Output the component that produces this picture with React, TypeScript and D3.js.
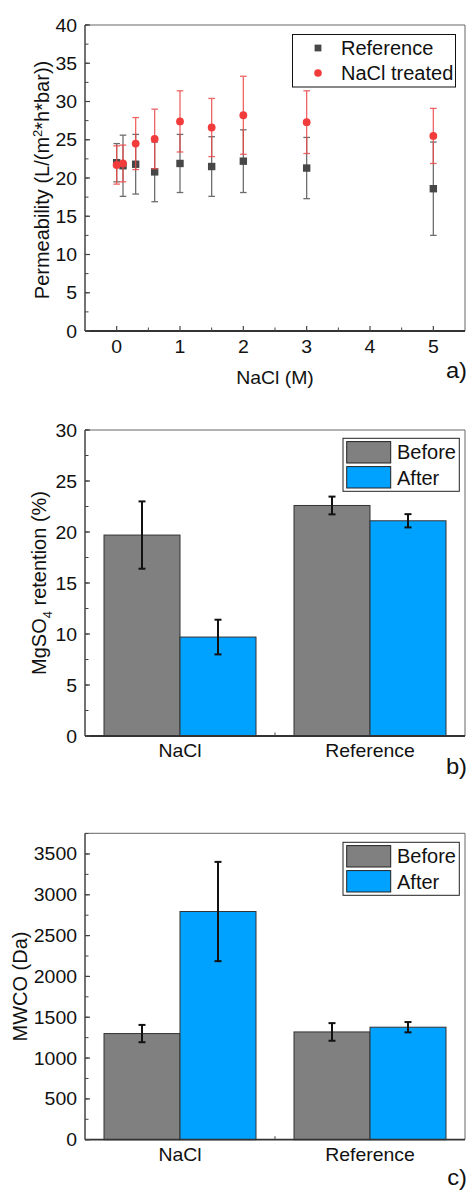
import React from 'react';
import * as d3 from 'd3';

// panel a: permeability vs NaCl concentration
const naclConc = [0, 0.1, 0.3, 0.6, 1, 1.5, 2, 3, 5];
const refPerm = [22.0, 21.6, 21.8, 20.8, 21.9, 21.5, 22.2, 21.3, 18.6];
const refPermErr = [2.5, 4.0, 3.9, 3.9, 3.8, 3.9, 4.1, 4.0, 6.1];
const treatedPerm = [21.7, 21.9, 24.5, 25.1, 27.4, 26.6, 28.2, 27.3, 25.5];
const treatedPermErr = [2.5, 2.4, 3.4, 3.9, 4.0, 3.8, 5.1, 4.1, 3.6];
const aXTicks = [0, 1, 2, 3, 4, 5];
const aYTicks = [0, 5, 10, 15, 20, 25, 30, 35, 40];

// panel b: MgSO4 retention
const categories = ['NaCl', 'Reference'];
const retBefore = [19.7, 22.6];
const retBeforeErr = [3.3, 0.87];
const retAfter = [9.7, 21.1];
const retAfterErr = [1.7, 0.65];
const bYTicks = [0, 5, 10, 15, 20, 25, 30];

// panel c: MWCO
const mwcoBefore = [1300, 1320];
const mwcoBeforeErr = [106, 108];
const mwcoAfter = [2795, 1378];
const mwcoAfterErr = [608, 63];
const cYTicks = [0, 500, 1000, 1500, 2000, 2500, 3000, 3500];

const FONT = '"Liberation Sans", Arial, sans-serif';
const GRAY = '#808080';
const BLUE = '#00a2ff';
const RED = '#f23c3c';
const DARK = '#474747';

// the source figure is slightly stretched horizontally
const SX = 1.08;

const T = ({ x, y, size = 18, anchor = 'middle', children, stretch = SX }: any) => (
  <text
    transform={`translate(${x},${y}) scale(${stretch},1)`}
    textAnchor={anchor}
    fontSize={size}
    fontFamily={FONT}
    fill="#111"
  >
    {children}
  </text>
);

const Frame = ({ left, right, top, bottom }: any) => (
  <g fill="none">
    <line x1={left} x2={right} y1={top} y2={top} stroke="#666" strokeWidth={1} />
    <line x1={right} x2={right} y1={top} y2={bottom} stroke="#666" strokeWidth={1} />
    <line x1={left} x2={left} y1={top} y2={bottom} stroke="#444" strokeWidth={1.5} />
    <line x1={left} x2={right} y1={bottom} y2={bottom} stroke="#333" strokeWidth={1.8} />
  </g>
);

const YAxis = ({ y, ticks, minorStep, left }: any) => {
  const [d0, d1] = y.domain();
  const minors = d3.range(d0, d1 + 1e-9, minorStep);
  return (
    <g>
      {minors.map((v: number, i: number) => (
        <line key={'m' + i} x1={left} x2={left + 3.5} y1={y(v)} y2={y(v)} stroke="#444" strokeWidth={1} />
      ))}
      {ticks.map((v: number) => (
        <g key={v}>
          <line x1={left} x2={left + 5} y1={y(v)} y2={y(v)} stroke="#444" strokeWidth={1.2} />
          <T x={left - 8} y={y(v) + 6.5} anchor="end">{String(v)}</T>
        </g>
      ))}
    </g>
  );
};

const PanelA = () => {
  const left = 85, right = 465, top = 25, bottom = 331;
  const x = d3.scaleLinear().domain([-0.5, 5.5]).range([left, right]);
  const y = d3.scaleLinear().domain([0, 40]).range([bottom, top]);
  const xMinor = d3.range(0.5, 5.5, 1);
  const series = [
    { vals: refPerm, errs: refPermErr, color: DARK, errColor: '#555', shape: 'square' },
    { vals: treatedPerm, errs: treatedPermErr, color: RED, errColor: '#ee4a4a', shape: 'circle' },
  ];
  return (
    <g>
      <Frame left={left} right={right} top={top} bottom={bottom} />
      <YAxis y={y} ticks={aYTicks} minorStep={2.5} left={left} />
      {xMinor.map((v) => (
        <line key={'xm' + v} x1={x(v)} x2={x(v)} y1={bottom} y2={bottom - 3.5} stroke="#444" strokeWidth={1} />
      ))}
      {aXTicks.map((v) => (
        <g key={v}>
          <line x1={x(v)} x2={x(v)} y1={bottom} y2={bottom - 5} stroke="#444" strokeWidth={1.2} />
          <T x={x(v)} y={353}>{String(v)}</T>
        </g>
      ))}
      {series.map((s, si) => (
        <g key={si}>
          {naclConc.map((c, i) => {
            const cx = x(c);
            const hi = y(s.vals[i] + s.errs[i]);
            const lo = y(s.vals[i] - s.errs[i]);
            return (
              <g key={i} stroke={s.errColor} strokeWidth={1.3} opacity={0.85}>
                <line x1={cx} x2={cx} y1={hi} y2={lo} />
                <line x1={cx - 3.3} x2={cx + 3.3} y1={hi} y2={hi} />
                <line x1={cx - 3.3} x2={cx + 3.3} y1={lo} y2={lo} />
              </g>
            );
          })}
          {naclConc.map((c, i) =>
            s.shape === 'square' ? (
              <rect key={'p' + i} x={x(c) - 3.7} y={y(s.vals[i]) - 3.7} width={7.4} height={7.4} fill={s.color} />
            ) : (
              <circle key={'p' + i} cx={x(c)} cy={y(s.vals[i])} r={3.9} fill={s.color} />
            )
          )}
        </g>
      ))}
      {/* legend */}
      <rect x={292.5} y={34.5} width={163} height={52.5} fill="#fff" stroke="#111" strokeWidth={1} />
      <rect x={318 - 3.4} y={48 - 3.4} width={6.8} height={6.8} fill={DARK} />
      <circle cx={318} cy={73} r={3.8} fill={RED} />
      <T x={341} y={55} size={20} anchor="start" stretch={1}>Reference</T>
      <T x={341} y={80} size={20} anchor="start" stretch={1}>NaCl treated</T>
      {/* axis titles */}
      <text
        transform={`translate(49,${(top + bottom) / 2 + 2}) rotate(-90)`}
        textAnchor="middle"
        fontSize={20}
        fontFamily={FONT}
        fill="#111"
      >
        Permeability (L/(m<tspan dy={-7} fontSize={13}>2</tspan><tspan dy={7}>*h*bar))</tspan>
      </text>
      <T x={275} y={384}>NaCl (M)</T>
      <T x={467} y={378} size={22} anchor="end">a)</T>
    </g>
  );
};

const BarPanel = ({ top, bottom, domainMax, ticks, minorStep, before, beforeErr, after, afterErr, catY, legendTop, label, labelX, panel, panelY }: any) => {
  const left = 85, right = 465;
  const x = d3.scaleLinear().domain([0.5, 2.5]).range([left, right]);
  const y = d3.scaleLinear().domain([0, domainMax]).range([bottom, top]);
  const bw = 0.4;
  const groups = [
    { vals: before, errs: beforeErr, fill: GRAY, off: -bw },
    { vals: after, errs: afterErr, fill: BLUE, off: 0 },
  ];
  return (
    <g>
      {groups.map((g, gi) =>
        categories.map((c, i) => (
          <rect
            key={gi + c}
            x={x(i + 1 + g.off)}
            y={y(g.vals[i])}
            width={x(i + 1 + g.off + bw) - x(i + 1 + g.off)}
            height={y(0) - y(g.vals[i])}
            fill={g.fill}
            stroke="#333"
            strokeWidth={1}
          />
        ))
      )}
      {groups.map((g, gi) =>
        categories.map((c, i) => {
          const cx = x(i + 1 + g.off + bw / 2);
          const hi = y(g.vals[i] + g.errs[i]);
          const lo = y(g.vals[i] - g.errs[i]);
          return (
            <g key={'e' + gi + c} stroke="#111" strokeWidth={2}>
              <line x1={cx} x2={cx} y1={hi} y2={lo} />
              <line x1={cx - 3.5} x2={cx + 3.5} y1={hi} y2={hi} />
              <line x1={cx - 3.5} x2={cx + 3.5} y1={lo} y2={lo} />
            </g>
          );
        })
      )}
      <Frame left={left} right={right} top={top} bottom={bottom} />
      <YAxis y={y} ticks={ticks} minorStep={minorStep} left={left} />
      <line x1={x(1.5)} x2={x(1.5)} y1={bottom} y2={bottom - 3.5} stroke="#444" strokeWidth={1} />
      {categories.map((c, i) => (
        <T key={c} x={x(i + 1)} y={catY}>{c}</T>
      ))}
      {/* legend */}
      <rect x={343} y={legendTop} width={116.3} height={53} fill="#fff" stroke="#222" strokeWidth={1} />
      <rect x={346.7} y={legendTop + 3.3} width={44} height={21.4} fill={GRAY} stroke="#222" strokeWidth={1} />
      <rect x={346.7} y={legendTop + 28.3} width={44} height={21.4} fill={BLUE} stroke="#222" strokeWidth={1} />
      <T x={397} y={legendTop + 21} size={20} anchor="start" stretch={1}>Before</T>
      <T x={397} y={legendTop + 46.5} size={20} anchor="start" stretch={1}>After</T>
      <text
        transform={`translate(${labelX},${(top + bottom) / 2}) rotate(-90)`}
        textAnchor="middle"
        fontSize={20}
        fontFamily={FONT}
        fill="#111"
      >
        {label}
      </text>
      <T x={467} y={panelY} size={22} anchor="end">{panel}</T>
    </g>
  );
};

export default function App() {
  return (
    <svg
      width={466}
      height={1191}
      viewBox="0 0 466 1191"
      style={{ position: 'absolute', left: 0, top: 0, background: '#fff' }}
    >
      <rect width={466} height={1191} fill="#fff" />
      <PanelA />
      <BarPanel
        top={430}
        bottom={736}
        domainMax={30}
        ticks={bYTicks}
        minorStep={2.5}
        before={retBefore}
        beforeErr={retBeforeErr}
        after={retAfter}
        afterErr={retAfterErr}
        catY={757}
        legendTop={438.3}
        label={<>MgSO<tspan dy={6} fontSize={13}>4</tspan><tspan dy={-6}> retention (%)</tspan></>}
        labelX={46}
        panel="b)"
        panelY={774}
      />
      <BarPanel
        top={833.3}
        bottom={1139.7}
        domainMax={3753}
        ticks={cYTicks}
        minorStep={250}
        before={mwcoBefore}
        beforeErr={mwcoBeforeErr}
        after={mwcoAfter}
        afterErr={mwcoAfterErr}
        catY={1161}
        legendTop={842.3}
        label="MWCO (Da)"
        labelX={27}
        panel="c)"
        panelY={1185}
      />
    </svg>
  );
}
